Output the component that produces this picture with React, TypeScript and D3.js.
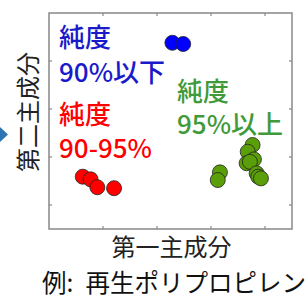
import { useRef, useEffect } from 'react';
import * as d3 from 'd3';

// PCA scores: [PC1, PC2]
const lowPurity = [[5.7, 27.6], [9.7, 27.1]];
const midPurity = [[-27.5, -28.2], [-24.6, -29.3], [-22.1, -32.6], [-15.9, -33.0]];
const highPurity = [
  [23.3, -26.4], [22.5, -29.6],
  [35.4, -15.0], [33.6, -17.8], [35.9, -21.0], [33.2, -22.6], [34.4, -22.0],
  [36.9, -26.8], [37.5, -28.2], [38.5, -28.9],
];
const xTicks = [-20, 0, 20, 40];
const yTicks = [-40, -20, 0, 20];

const FONT = '"Noto Sans CJK JP", "Noto Sans", sans-serif';

export default function App() {
  const ref = useRef<SVGSVGElement>(null);

  useEffect(() => {
    const svg = d3.select(ref.current);
    svg.selectAll('*').remove();

    const x = d3.scaleLinear().domain([-40, 50]).range([49, 292]);
    const y = d3.scaleLinear().domain([-50, 40]).range([229, 13]);
    const [x0, x1] = x.range();
    const [y0, y1] = y.range();

    // arrow tip from the slide on the left
    svg.append('polygon').attr('points', '0,127 8,134.5 0,142').attr('fill', '#2e75b6');

    // ticks, inward on all sides
    const tk = 3;
    const g = svg.append('g').attr('stroke', '#888').attr('stroke-width', 1.2);
    xTicks.forEach(t => {
      g.append('line').attr('x1', x(t)).attr('x2', x(t)).attr('y1', y0).attr('y2', y0 - tk);
      g.append('line').attr('x1', x(t)).attr('x2', x(t)).attr('y1', y1).attr('y2', y1 + tk);
    });
    yTicks.forEach(t => {
      g.append('line').attr('y1', y(t)).attr('y2', y(t)).attr('x1', x0).attr('x2', x0 + tk);
      g.append('line').attr('y1', y(t)).attr('y2', y(t)).attr('x1', x1).attr('x2', x1 - tk);
    });
    svg.append('rect').attr('x', x0).attr('y', y1).attr('width', x1 - x0).attr('height', y0 - y1)
      .attr('fill', 'none').attr('stroke', '#888').attr('stroke-width', 1.5);

    const series: [number[][], string][] = [
      [lowPurity, '#0000ff'],
      [midPurity, '#ff0000'],
      [highPurity, '#5a9e0a'],
    ];
    series.forEach(([pts, c]) => {
      svg.append('g').selectAll('circle').data(pts).join('circle')
        .attr('cx', d => x(d[0])).attr('cy', d => y(d[1])).attr('r', 7.5)
        .attr('fill', c).attr('stroke', '#222').attr('stroke-width', 0.8);
    });

    // group labels
    const labels: [string, string, number, number, number, string][] = [
      ['純度', '90%以下', 59, 47, 82, '#1a1acb'],
      ['純度', '90-95%', 59, 124, 158, '#ff0000'],
      ['純度', '95%以上', 177, 101, 134, '#3f9a3a'],
    ];
    labels.forEach(([a, b, lx, ly1, ly2, c]) => {
      const t = svg.append('text').attr('font-family', FONT).attr('font-size', 26)
        .attr('font-weight', 500).attr('fill', c);
      t.append('tspan').attr('x', lx).attr('y', ly1).text(a);
      t.append('tspan').attr('x', lx).attr('y', ly2).text(b);
    });

    // axis titles
    svg.append('text').attr('x', (x0 + x1) / 2 + 1).attr('y', 256).attr('text-anchor', 'middle')
      .attr('font-family', FONT).attr('font-size', 24).attr('fill', '#222').text('第一主成分');
    svg.append('text').attr('transform', `translate(37,112) rotate(-90)`).attr('text-anchor', 'middle')
      .attr('font-family', FONT).attr('font-size', 24).attr('fill', '#222').text('第二主成分');

    svg.append('text').attr('x', 42).attr('y', 292)
      .attr('font-family', FONT).attr('font-size', 24.5).attr('fill', '#111')
      .text('例:\u2002再生ポリプロピレン');
  }, []);

  return (
    <div style={{ position: 'absolute', left: 0, top: 0 }}>
      <svg ref={ref} width={308} height={303} style={{ display: 'block', background: '#fff' }} />
    </div>
  );
}
